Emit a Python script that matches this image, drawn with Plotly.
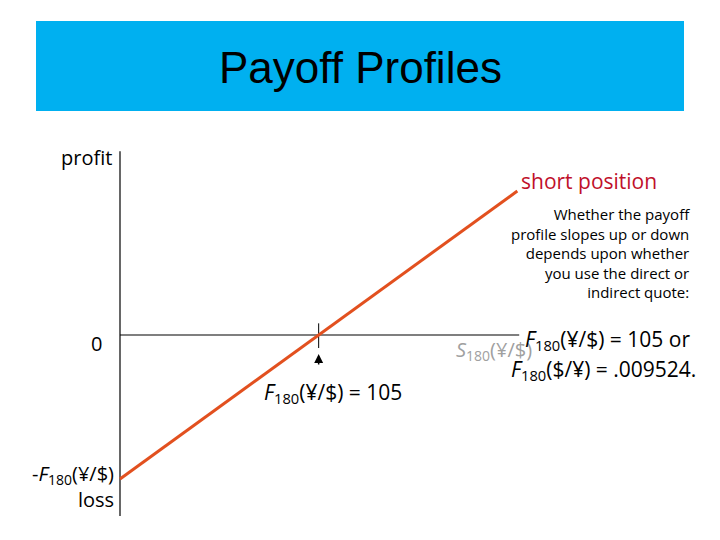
import plotly.graph_objects as go

# Data (exchange rate in ¥/$ vs profit for a short position)
spot_rate = [0, 105, 210]
profit = [-105, 0, 105]
forward_rate = 105
y_tick_labels = ["0", "-<i>F</i><sub>180</sub>(¥/$)<br>loss"]

W, H, OFF = 712, 532, 8
def px(x):
    return (x - OFF) / W
def py(y):
    return 1 - (y - OFF) / H

# screen mapping: X = 120 + 1.892*x ; Y = 335 - 1.371*y (page pixels)
x_range = [-(120 - OFF) / 1.892, (W + OFF - 120) / 1.892]
y_range = [(335 - (H + OFF)) / 1.371, (335 - OFF) / 1.371]

fig = go.Figure()

fig.add_trace(go.Scatter(
    x=spot_rate, y=profit, mode="lines",
    line=dict(color="#E2501F", width=3), hoverinfo="skip", showlegend=False))

# axes lines
fig.add_shape(type="line", x0=0, x1=0, y0=-132, y1=134,
              line=dict(color="black", width=1.2), layer="below")
fig.add_shape(type="line", x0=0, x1=211, y0=0, y1=0,
              line=dict(color="black", width=1.2), layer="below")
fig.add_shape(type="line", x0=forward_rate, x1=forward_rate, y0=8.5, y1=-9.5,
              line=dict(color="black", width=1), layer="below")

# title box
fig.add_shape(type="rect", xref="paper", yref="paper",
              x0=px(36), x1=px(684), y0=py(111), y1=py(21),
              fillcolor="#00B0F0", line=dict(width=0), layer="below")

base = "Liberation Sans, Arial, sans-serif"
body = "Open Sans, Noto Sans, sans-serif"

ann = []
ann.append(dict(xref="paper", yref="paper", x=px(360), y=py(68), text="Payoff Profiles",
                showarrow=False, font=dict(family=base, size=44, color="black"),
                xanchor="center", yanchor="middle"))
ann.append(dict(xref="paper", yref="paper", x=px(114), y=py(158), text="profit",
                showarrow=False, font=dict(family=body, size=20, color="black"),
                xanchor="right", yanchor="middle"))
ann.append(dict(xref="paper", yref="paper", x=px(104), y=py(343), text=y_tick_labels[0],
                showarrow=False, font=dict(family=body, size=20, color="black"),
                xanchor="right", yanchor="middle"))
ann.append(dict(xref="paper", yref="paper", x=px(116), y=py(486), text=y_tick_labels[1],
                showarrow=False, font=dict(family=body, size=20, color="black"),
                xanchor="right", yanchor="middle", align="right"))
ann.append(dict(xref="paper", yref="paper", x=px(659), y=py(181), text="short position",
                showarrow=False, font=dict(family=body, size=21, color="#C0102A"),
                xanchor="right", yanchor="middle"))
ann.append(dict(xref="paper", yref="paper", x=px(692), y=py(253),
                text="Whether the payoff<br>profile slopes up or down<br>depends upon whether<br>you use the direct or<br>indirect quote:",
                showarrow=False, font=dict(family=body, size=15, color="black"),
                xanchor="right", yanchor="middle", align="right"))
ann.append(dict(xref="paper", yref="paper", x=px(454), y=py(350),
                text="<i>S</i><sub>180</sub>(¥/$)",
                showarrow=False, font=dict(family=body, size=20, color="#A0A0A0"),
                xanchor="left", yanchor="middle"))
ann.append(dict(xref="paper", yref="paper", x=px(692), y=py(340),
                text="<i>F</i><sub>180</sub>(¥/$) = 105 or",
                showarrow=False, font=dict(family=body, size=21, color="black"),
                xanchor="right", yanchor="middle"))
ann.append(dict(xref="paper", yref="paper", x=px(698), y=py(370),
                text="<i>F</i><sub>180</sub>($/¥) = .009524.",
                showarrow=False, font=dict(family=body, size=21, color="black"),
                xanchor="right", yanchor="middle"))
ann.append(dict(xref="paper", yref="paper", x=px(262), y=py(393),
                text="<i>F</i><sub>180</sub>(¥/$) = 105",
                showarrow=False, font=dict(family=body, size=21, color="black"),
                xanchor="left", yanchor="middle"))
# small arrow
ann.append(dict(x=forward_rate, y=-13.9, ax=0, ay=12, text="", showarrow=True,
                arrowhead=2, arrowsize=1.2, arrowwidth=1.5, arrowcolor="black"))

fig.update_layout(
    width=W, height=H,
    margin=dict(l=0, r=0, t=0, b=0),
    paper_bgcolor="white", plot_bgcolor="white",
    xaxis=dict(range=x_range, visible=False, fixedrange=True),
    yaxis=dict(range=y_range, visible=False, fixedrange=True),
    annotations=ann,
    showlegend=False,
)

fig.write_html("out.html")
